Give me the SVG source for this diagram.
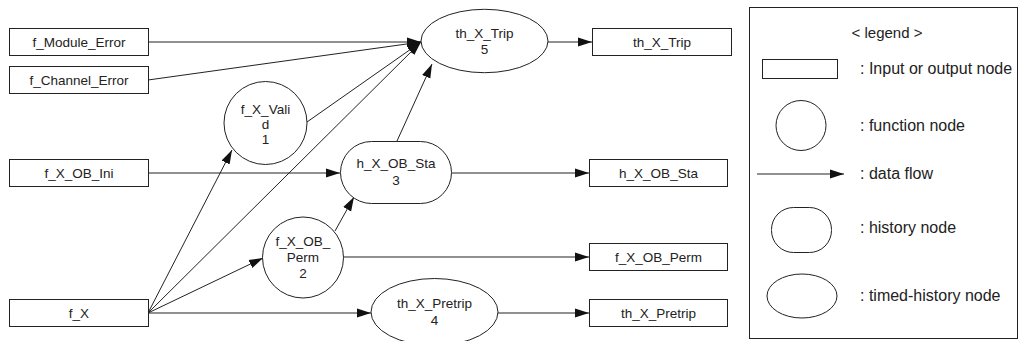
<svg xmlns="http://www.w3.org/2000/svg" width="1021" height="341" viewBox="0 0 1021 341">
<style>
.s{fill:#fff;stroke:#222;stroke-width:1}
.t{font-family:"Liberation Sans",Arial,sans-serif;font-size:13.5px;fill:#222;text-anchor:middle}
.lg{font-family:"Liberation Sans",Arial,sans-serif;font-size:16px;fill:#222}
.c line{stroke:#222;stroke-width:1;fill:none}
.c line.a{marker-end:url(#ah)}
</style>
<defs>
<marker id="ah" markerUnits="userSpaceOnUse" markerWidth="14" markerHeight="10" refX="14" refY="4.5" orient="auto" viewBox="0 0 14 9">
<path d="M0,0 L14,4.5 L0,9 z" fill="#111"/>
</marker>
</defs>
<rect width="1021" height="341" fill="#fff"/>
<g class="c" id="connectors">
<line class="a" x1="148" y1="42" x2="421" y2="42"/>
<line class="a" x1="148" y1="80" x2="421" y2="42"/>
<line class="a" x1="307" y1="122" x2="421" y2="42"/>
<line class="a" x1="148" y1="313" x2="421" y2="42"/>
<line class="a" x1="397" y1="141" x2="432" y2="64"/>
<line class="a" x1="548" y1="42" x2="592" y2="42"/>
<line class="a" x1="148" y1="173" x2="340" y2="173"/>
<line class="a" x1="452" y1="173" x2="589" y2="173"/>
<line class="a" x1="148" y1="313" x2="232" y2="150"/>
<line class="a" x1="148" y1="313" x2="263" y2="258"/>
<line class="a" x1="335" y1="231" x2="354" y2="197"/>
<line class="a" x1="343" y1="257" x2="589" y2="257"/>
<line class="a" x1="148" y1="313" x2="371" y2="313"/>
<line class="a" x1="498" y1="313" x2="589" y2="313"/>
</g>
<g id="f_Module_Error"><rect class="s" x="9.5" y="28.5" width="139" height="27"/><text class="t" x="79" y="46.5">f_Module_Error</text></g>
<g id="f_Channel_Error"><rect class="s" x="9.5" y="66.5" width="139" height="27"/><text class="t" x="79" y="84.5">f_Channel_Error</text></g>
<g id="f_X_OB_Ini"><rect class="s" x="9.5" y="159.5" width="139" height="27"/><text class="t" x="79" y="177.5">f_X_OB_Ini</text></g>
<g id="f_X"><rect class="s" x="9.5" y="299.5" width="139" height="27"/><text class="t" x="79" y="317.5">f_X</text></g>
<g id="f_X_Valid"><circle class="s" cx="265.5" cy="123" r="41.5"/><text class="t" x="265.5" y="114">f_X_Vali</text><text class="t" x="265.5" y="128.5">d</text><text class="t" x="265.5" y="143.5">1</text></g>
<g id="f_X_OB_Perm_fn"><circle class="s" cx="303" cy="257.5" r="40.5"/><text class="t" x="303" y="246">f_X_OB_</text><text class="t" x="303" y="262">Perm</text><text class="t" x="303" y="278">2</text></g>
<g id="h_X_OB_Sta_hist"><rect class="s" x="340.5" y="141.5" width="111" height="62" rx="31" ry="31"/><text class="t" x="396" y="167.5">h_X_OB_Sta</text><text class="t" x="396" y="185">3</text></g>
<g id="th_X_Trip_th"><ellipse class="s" cx="484.5" cy="41" rx="63.5" ry="31.7"/><text class="t" x="484.5" y="37.5">th_X_Trip</text><text class="t" x="484.5" y="54">5</text></g>
<g id="th_X_Pretrip_th"><ellipse class="s" cx="434.5" cy="312" rx="63.5" ry="33.5"/><text class="t" x="434.5" y="308">th_X_Pretrip</text><text class="t" x="434.5" y="325">4</text></g>
<g id="th_X_Trip_out"><rect class="s" x="592.5" y="28.5" width="139" height="27"/><text class="t" x="662" y="46.5">th_X_Trip</text></g>
<g id="h_X_OB_Sta_out"><rect class="s" x="589.5" y="159.5" width="138" height="27"/><text class="t" x="658.5" y="177.5">h_X_OB_Sta</text></g>
<g id="f_X_OB_Perm_out"><rect class="s" x="589.5" y="243.5" width="138" height="27"/><text class="t" x="658.5" y="261.5">f_X_OB_Perm</text></g>
<g id="th_X_Pretrip_out"><rect class="s" x="589.5" y="299.5" width="138" height="27"/><text class="t" x="658.5" y="317.5">th_X_Pretrip</text></g>
<g id="legend">
<rect class="s" x="749.5" y="7.5" width="268" height="331"/>
<text class="lg" x="887" y="38" text-anchor="middle" style="font-size:15px">&lt; legend &gt;</text>
<rect class="s" x="762.5" y="59.5" width="75" height="19"/>
<text class="lg" x="860" y="74">: Input or output node</text>
<circle class="s" cx="801" cy="125.5" r="25"/>
<text class="lg" x="860" y="131">: function node</text>
<line x1="757" y1="174" x2="844" y2="174" stroke="#222" stroke-width="1" marker-end="url(#ah)"/>
<text class="lg" x="860" y="179">: data flow</text>
<rect class="s" x="771.5" y="207.5" width="60" height="45" rx="22" ry="22"/>
<text class="lg" x="860" y="233">: history node</text>
<ellipse class="s" cx="802" cy="296" rx="35" ry="22"/>
<text class="lg" x="860" y="301">: timed-history node</text>
</g>
</svg>
